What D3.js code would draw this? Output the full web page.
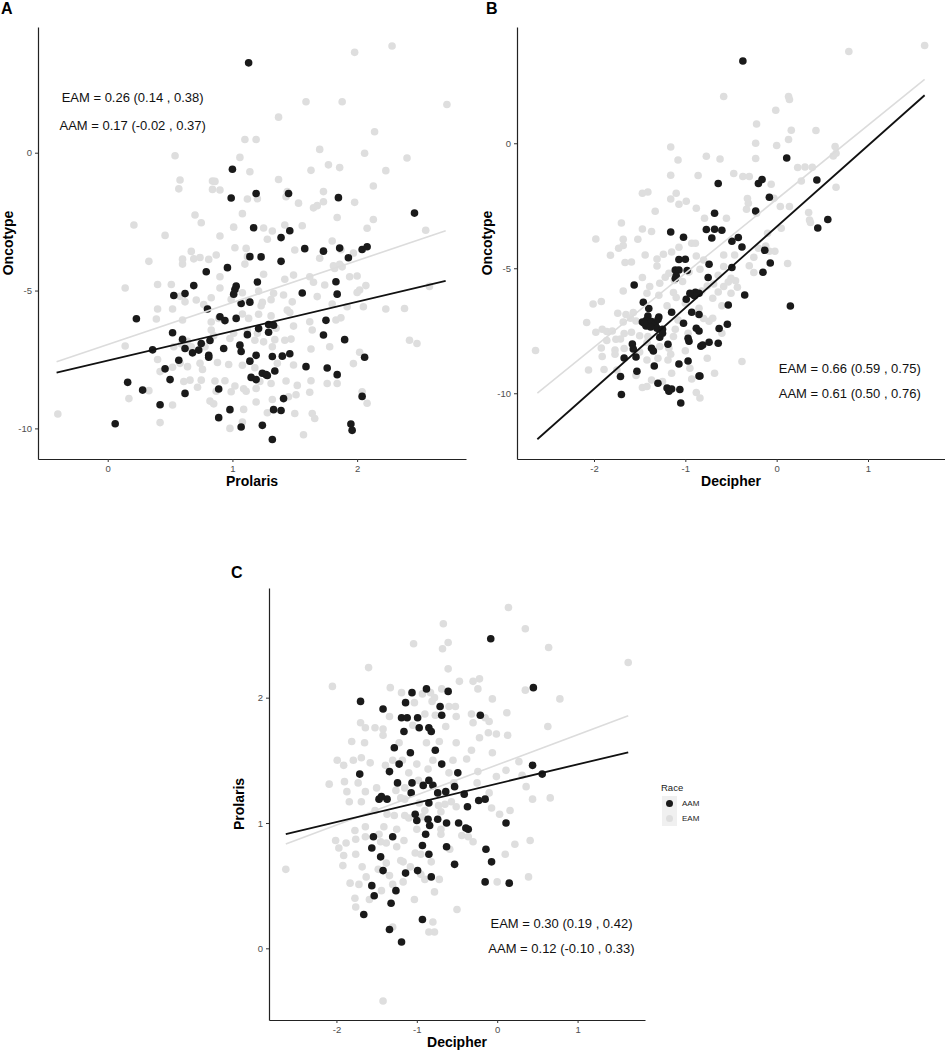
<!DOCTYPE html>
<html><head><meta charset="utf-8">
<script src="https://cdn.jsdelivr.net/npm/d3@7"></script>
<style>body{margin:0;background:#fff;} svg{display:block;font-family:"Liberation Sans",Arial,Helvetica,sans-serif;}</style>
</head><body><svg id="c" width="945" height="1050"></svg>
<script>
// ---------------- DATA ----------------
// Panel A: Prolaris (x) vs Oncotype (y)
const A_AAM = [[1.13,3.26],[1.00,-0.60],[0.99,-1.64],[1.19,-1.48],[1.45,-1.48],[1.85,-1.63],[2.46,-2.19],[1.17,-2.72],[1.46,-2.83],[1.39,-3.08],[1.58,-3.48],[1.73,-3.57],[1.86,-3.46],[2.04,-3.51],[2.08,-3.41],[1.93,-3.81],[1.14,-3.77],[1.23,-3.78],[1.39,-3.94],[0.96,-4.17],[0.79,-4.32],[1.20,-4.69],[0.69,-4.82],[0.62,-5.11],[0.53,-5.18],[1.02,-4.96],[1.03,-4.84],[1.01,-5.13],[1.56,-5.09],[1.83,-4.68],[1.84,-5.13],[1.07,-5.47],[1.14,-5.42],[0.80,-5.67],[0.90,-5.95],[0.94,-6.09],[1.03,-6.01],[0.23,-6.02],[1.75,-6.08],[1.29,-6.23],[1.33,-6.26],[1.21,-6.38],[1.29,-6.51],[0.52,-6.53],[1.12,-6.60],[1.73,-6.61],[1.90,-6.78],[0.60,-6.77],[0.82,-6.81],[0.75,-6.92],[1.06,-6.98],[0.36,-7.15],[0.62,-7.10],[0.93,-7.10],[0.73,-7.16],[0.68,-7.26],[1.07,-7.21],[0.81,-7.35],[0.81,-7.42],[1.19,-7.35],[1.32,-7.39],[1.40,-7.38],[1.46,-7.29],[0.57,-7.53],[1.14,-7.56],[2.06,-7.42],[0.46,-7.84],[1.59,-7.76],[1.76,-7.81],[1.34,-7.92],[1.24,-8.00],[1.27,-8.05],[1.28,-8.08],[1.84,-8.05],[0.50,-8.23],[1.15,-8.15],[1.19,-8.23],[0.16,-8.33],[0.28,-8.61],[0.89,-8.57],[0.62,-8.73],[2.04,-8.84],[1.41,-8.92],[0.42,-9.14],[0.98,-9.32],[1.33,-9.32],[1.39,-9.35],[0.89,-9.61],[0.06,-9.83],[1.07,-9.95],[1.24,-9.89],[1.95,-9.84],[1.96,-10.07],[1.32,-10.40]];
const A_EAM = [[2.28,3.87],[1.98,3.64],[1.59,1.85],[1.88,1.85],[2.72,1.75],[1.37,1.29],[2.14,0.76],[1.10,0.48],[1.19,0.48],[1.70,0.12],[2.06,-0.02],[2.40,-0.19],[0.54,-0.11],[1.06,-0.17],[1.77,-0.44],[1.86,-0.54],[1.63,-0.64],[2.23,-0.65],[1.14,-0.69],[1.37,-0.97],[2.13,-1.21],[0.58,-0.99],[0.57,-1.31],[0.84,-1.03],[0.86,-1.04],[0.90,-1.35],[0.84,-1.33],[1.12,-1.68],[1.20,-1.67],[1.44,-1.41],[1.73,-1.41],[1.43,-1.60],[1.53,-1.83],[1.98,-1.80],[1.65,-2.00],[1.68,-1.92],[1.73,-1.78],[1.84,-2.35],[2.13,-2.42],[0.21,-2.62],[0.70,-2.26],[0.75,-2.54],[1.08,-2.21],[1.25,-2.73],[1.01,-2.70],[1.42,-2.62],[1.56,-2.65],[2.08,-2.74],[2.55,-2.81],[0.46,-3.00],[0.90,-3.02],[1.28,-3.14],[1.32,-2.84],[1.02,-3.45],[1.11,-3.47],[1.80,-3.20],[1.87,-3.52],[0.67,-3.58],[0.69,-3.85],[0.74,-3.80],[0.81,-3.87],[0.87,-3.71],[0.33,-3.94],[0.60,-3.86],[0.60,-4.04],[1.10,-4.04],[1.12,-3.77],[1.50,-3.53],[1.70,-3.83],[1.97,-3.64],[1.81,-4.10],[1.86,-4.05],[1.82,-4.20],[1.88,-4.14],[1.25,-4.41],[1.42,-4.59],[0.90,-4.50],[0.40,-4.78],[0.51,-4.78],[0.14,-4.91],[0.90,-4.91],[1.08,-5.08],[1.21,-5.02],[1.49,-4.44],[1.62,-4.50],[1.65,-4.70],[1.74,-4.80],[1.94,-4.50],[2.00,-4.47],[2.02,-4.98],[2.07,-4.82],[2.58,-4.85],[2.00,-5.07],[0.58,-5.21],[0.62,-5.41],[0.71,-5.34],[0.77,-5.51],[0.52,-5.67],[0.80,-5.65],[0.83,-5.26],[0.99,-5.32],[1.13,-5.37],[1.23,-5.55],[1.24,-5.43],[1.31,-5.33],[1.41,-5.16],[1.33,-5.10],[1.44,-5.71],[1.48,-5.41],[1.68,-5.22],[1.80,-5.49],[1.92,-5.59],[2.05,-5.59],[2.23,-5.67],[2.38,-5.65],[1.83,-6.07],[0.40,-5.67],[0.39,-6.03],[0.60,-6.07],[0.83,-6.14],[0.89,-6.01],[1.08,-5.85],[1.13,-6.01],[1.21,-5.86],[1.31,-5.92],[1.46,-5.80],[1.62,-6.13],[1.87,-5.99],[1.64,-6.43],[1.49,-6.29],[1.35,-6.37],[1.12,-6.43],[1.20,-6.55],[1.01,-6.55],[0.83,-6.43],[0.85,-6.64],[0.78,-7.04],[0.98,-6.74],[0.64,-6.84],[0.67,-7.04],[0.14,-7.01],[0.53,-7.04],[0.59,-6.94],[1.18,-6.80],[1.25,-6.86],[1.32,-7.04],[1.34,-6.78],[1.42,-6.80],[1.47,-6.76],[1.63,-7.12],[1.78,-7.04],[2.02,-7.24],[2.42,-6.80],[2.48,-6.92],[0.40,-7.50],[0.58,-7.64],[0.64,-7.76],[0.74,-7.64],[0.76,-7.86],[0.88,-7.61],[0.97,-7.68],[1.08,-7.71],[1.18,-7.80],[1.36,-7.64],[1.49,-7.70],[1.97,-7.65],[0.52,-7.78],[0.42,-7.94],[0.61,-8.30],[0.66,-8.25],[0.75,-8.25],[0.94,-8.27],[0.86,-8.28],[1.02,-8.46],[1.09,-8.56],[1.22,-8.30],[1.31,-8.37],[1.43,-8.28],[1.52,-8.44],[1.63,-8.27],[1.76,-8.37],[1.84,-8.37],[0.33,-8.63],[0.72,-8.51],[0.87,-8.65],[0.99,-8.67],[1.11,-8.65],[1.19,-8.55],[0.17,-8.92],[0.52,-9.15],[0.82,-9.01],[0.85,-9.11],[1.19,-9.04],[1.32,-8.95],[1.45,-8.85],[1.51,-8.78],[1.62,-8.69],[2.04,-8.67],[2.08,-9.09],[1.09,-9.31],[1.28,-9.43],[1.50,-9.46],[1.64,-9.46],[1.66,-9.64],[-0.40,-9.48],[0.42,-9.79],[1.08,-9.77],[0.98,-10.00],[1.57,-10.23],[1.96,-10.07]];

// Panel B: Decipher (x) vs Oncotype (y)
const B_AAM = [[-0.37,3.29],[0.11,-0.59],[0.44,-1.47],[-0.64,-1.61],[-0.20,-1.61],[-0.16,-1.45],[-0.08,-2.16],[-0.23,-2.71],[-0.68,-2.80],[0.56,-3.05],[0.45,-3.39],[-1.16,-3.55],[-0.77,-3.45],[-0.68,-3.44],[-0.60,-3.48],[-1.02,-3.76],[-0.71,-3.79],[-0.49,-3.92],[-0.42,-3.77],[-0.38,-4.15],[-0.13,-4.28],[-1.07,-4.65],[-1.00,-4.64],[-0.74,-4.84],[-0.07,-4.79],[-0.49,-4.97],[-1.11,-5.07],[-1.07,-5.07],[-0.98,-5.09],[-1.11,-5.41],[-0.75,-5.37],[-0.15,-5.16],[-1.56,-5.67],[-0.35,-6.07],[-0.89,-5.96],[-0.85,-6.00],[-0.92,-6.04],[-0.99,-6.24],[0.15,-6.51],[-1.46,-6.36],[-1.40,-6.61],[-0.53,-6.47],[-1.15,-6.76],[-0.93,-6.76],[-0.85,-6.85],[-1.41,-6.91],[-1.29,-6.95],[-1.47,-7.15],[-1.43,-7.09],[-1.37,-7.13],[-1.33,-7.23],[-1.43,-7.31],[-1.31,-7.40],[-1.02,-7.20],[-0.54,-7.24],[-1.25,-7.44],[-0.63,-7.41],[-0.88,-7.40],[-0.85,-7.51],[-1.28,-7.76],[-0.97,-7.80],[-0.96,-7.92],[-1.58,-8.03],[-1.19,-8.04],[-0.83,-8.12],[-0.81,-8.07],[-0.74,-7.96],[-0.64,-8.00],[-1.57,-8.23],[-1.37,-8.20],[-1.35,-8.31],[-1.67,-8.59],[-1.54,-8.55],[-0.97,-8.71],[-1.07,-8.83],[-1.34,-8.91],[-1.53,-9.12],[-1.71,-9.33],[-0.85,-9.31],[-0.84,-9.31],[-1.30,-9.60],[-1.20,-9.79],[-1.15,-9.83],[-1.18,-9.92],[-1.06,-9.85],[-1.70,-10.05],[-1.05,-10.39],[-1.45,-7.20],[-1.38,-7.35],[-1.30,-7.05],[-1.25,-7.60],[-0.90,-6.10],[-0.95,-6.00],[-1.10,-5.30]];
const B_EAM = [[1.62,3.91],[0.79,3.67],[-0.58,1.87],[0.13,1.87],[0.14,1.75],[-0.01,1.32],[-0.22,0.77],[0.16,0.52],[0.43,0.51],[0.13,0.15],[-0.23,0.00],[0.00,-0.09],[-1.16,-0.15],[-1.08,-0.67],[-0.77,-0.52],[-0.62,-0.63],[-0.23,-0.61],[0.64,-0.13],[0.65,-0.40],[0.62,-0.51],[0.31,-0.95],[0.23,-0.97],[0.39,-0.96],[-1.16,-1.28],[-0.86,-1.29],[-0.47,-1.21],[-0.37,-1.33],[-0.30,-1.33],[-0.06,-1.64],[0.27,-1.51],[0.65,-1.76],[-1.47,-2.00],[-1.41,-1.95],[-1.10,-2.00],[-1.16,-2.23],[-1.07,-2.44],[-0.99,-2.32],[-0.32,-2.21],[-0.31,-2.40],[-0.03,-2.20],[0.04,-2.53],[0.14,-2.53],[-1.33,-2.72],[-0.88,-2.60],[-0.79,-3.00],[-0.55,-3.00],[-0.33,-2.64],[-0.22,-2.80],[0.35,-2.77],[0.36,-3.07],[0.37,-3.17],[-1.70,-3.19],[-1.47,-3.43],[-1.37,-3.53],[-1.98,-3.83],[-1.68,-3.84],[-1.68,-4.09],[-1.52,-3.84],[-1.73,-4.20],[-1.82,-4.48],[-1.59,-4.75],[-1.66,-4.77],[-1.44,-4.47],[-1.31,-4.63],[-1.24,-4.44],[-1.15,-4.35],[-1.07,-4.16],[-0.93,-4.00],[-0.89,-4.00],[-0.88,-4.51],[-0.80,-4.67],[-0.58,-4.47],[-0.46,-4.47],[-0.25,-4.56],[-0.12,-4.11],[-0.08,-4.32],[-0.02,-4.32],[0.12,-4.81],[-1.31,-4.91],[-1.22,-5.36],[-1.18,-5.20],[-0.96,-5.15],[-0.84,-5.04],[-0.58,-4.93],[-0.64,-5.28],[-0.50,-5.40],[-0.25,-5.17],[-1.47,-5.37],[-1.28,-5.60],[-1.39,-5.73],[-1.12,-5.49],[-1.03,-5.53],[-0.76,-5.71],[-0.69,-5.63],[-0.58,-5.73],[-0.53,-5.55],[-0.43,-5.76],[-1.68,-5.91],[-1.42,-6.00],[-1.29,-6.08],[-1.13,-5.97],[-1.10,-6.17],[-0.82,-5.91],[-0.64,-5.95],[-1.92,-6.33],[-2.01,-6.43],[-1.74,-6.80],[-2.08,-7.17],[-1.98,-7.56],[-1.91,-7.44],[-1.86,-7.53],[-1.80,-7.51],[-1.68,-7.15],[-1.65,-6.85],[-1.57,-6.77],[-1.54,-7.11],[-1.59,-7.56],[-1.67,-7.61],[-1.71,-7.83],[-1.76,-7.84],[-1.86,-7.89],[-1.92,-8.19],[-1.77,-8.27],[-1.77,-8.44],[-1.91,-8.53],[-1.67,-8.21],[-1.50,-8.35],[-1.42,-7.97],[-1.41,-7.73],[-1.28,-8.13],[-1.18,-8.20],[-1.16,-8.44],[-1.42,-8.67],[-1.19,-8.67],[-1.13,-7.73],[-1.11,-7.44],[-1.08,-7.07],[-0.80,-7.01],[-0.74,-7.12],[-0.76,-8.60],[-0.97,-7.60],[-2.06,-9.07],[-1.89,-9.05],[-1.75,-9.07],[-1.54,-9.29],[-1.47,-9.77],[-1.42,-9.73],[-1.37,-9.47],[-1.25,-9.53],[-0.93,-9.43],[-0.88,-9.97],[-0.84,-10.19],[-0.38,-8.73],[-2.64,-8.29],[-0.68,-9.20],[-1.20,-6.50],[-1.00,-6.40],[-0.85,-6.60],[-0.70,-6.20],[-0.60,-6.50],[-0.50,-6.00],[-0.45,-5.50],[-0.30,-4.90],[-0.20,-4.20],[-0.10,-3.60],[0.05,-3.40],[-1.60,-7.00],[-1.50,-7.70],[-1.30,-8.60],[-1.00,-8.30],[-0.95,-9.00],[-1.15,-9.20],[-0.60,-7.60],[-0.70,-7.00]];

// Panel C: Decipher (x) vs Prolaris (y)
const C_AAM = [[-0.08,2.47],[0.45,2.08],[-1.06,2.04],[-0.61,2.05],[-0.88,2.07],[-1.70,1.97],[-1.42,1.91],[-1.14,1.96],[-0.71,1.93],[-0.69,1.86],[-1.19,1.84],[-1.12,1.84],[-0.99,1.84],[-0.21,1.86],[-0.97,1.76],[-0.85,1.76],[-0.82,1.73],[-1.16,1.73],[-1.28,1.60],[-1.08,1.56],[-0.77,1.58],[-1.22,1.47],[-0.69,1.47],[-1.34,1.41],[-1.71,1.39],[-0.49,1.40],[-1.24,1.32],[-1.06,1.32],[-0.85,1.34],[-0.92,1.30],[-0.80,1.30],[-0.53,1.29],[0.44,1.46],[0.56,1.39],[-0.64,1.25],[-0.74,1.24],[-0.41,1.23],[-1.47,1.19],[-1.37,1.19],[-1.44,1.21],[-0.37,1.13],[-0.23,1.18],[-0.15,1.19],[-1.07,1.24],[-0.85,1.16],[-1.02,1.07],[-1.00,1.02],[-0.86,1.03],[-0.74,1.03],[-0.63,1.00],[-0.48,1.00],[-0.84,0.98],[-0.39,0.96],[-0.36,0.95],[0.11,1.00],[-1.30,0.89],[-1.54,0.89],[-0.89,0.91],[-0.93,0.82],[-1.56,0.80],[-1.45,0.73],[-0.85,0.75],[-0.14,0.79],[-0.63,0.81],[-0.53,0.67],[-0.07,0.69],[-1.42,0.62],[-1.14,0.60],[-0.99,0.62],[-0.82,0.57],[-0.15,0.53],[0.15,0.52],[-1.56,0.50],[-1.53,0.42],[-1.26,0.46],[-1.32,0.36],[-1.66,0.27],[-0.93,0.23],[-1.34,0.15],[-1.19,0.05]];
const C_EAM = [[0.14,2.72],[-0.67,2.59],[0.35,2.55],[-0.61,2.44],[-1.04,2.43],[-0.68,2.39],[0.64,2.40],[1.63,2.28],[-1.60,2.24],[-0.61,2.23],[-2.05,2.09],[-1.33,2.08],[-1.19,2.04],[-0.83,2.04],[-0.78,2.00],[-0.69,2.07],[-0.47,2.13],[-0.30,2.13],[-0.22,2.15],[-0.24,2.07],[-0.06,1.99],[0.35,2.06],[0.78,1.99],[-0.93,2.03],[-0.81,1.97],[-0.60,1.93],[-0.52,1.93],[-1.03,1.96],[-1.34,1.85],[-1.70,1.80],[-1.64,1.76],[-1.52,1.76],[-1.42,1.75],[-1.05,1.78],[-0.90,1.87],[-0.77,1.86],[-0.64,1.77],[-0.51,1.85],[-0.32,1.87],[-0.30,1.80],[-0.15,1.84],[-0.10,1.81],[0.12,1.88],[-0.11,1.72],[-0.01,1.71],[0.13,1.70],[0.63,1.77],[-1.81,1.65],[-1.65,1.64],[-1.42,1.70],[-1.22,1.64],[-0.88,1.64],[-0.72,1.65],[-0.51,1.64],[-0.32,1.58],[-0.22,1.68],[-0.06,1.56],[-1.99,1.50],[-1.91,1.46],[-1.79,1.50],[-1.69,1.52],[-1.58,1.48],[-1.39,1.46],[-1.18,1.50],[-1.00,1.47],[-0.86,1.43],[-0.60,1.40],[-0.38,1.51],[-0.24,1.41],[-0.01,1.37],[0.11,1.42],[0.27,1.49],[0.31,1.38],[-2.09,1.31],[-1.90,1.33],[-1.73,1.32],[-1.50,1.28],[-1.15,1.28],[-0.98,1.34],[-0.54,1.32],[-0.25,1.32],[-0.10,1.24],[0.36,1.29],[-1.87,1.25],[-1.64,1.25],[-1.84,1.17],[-1.69,1.17],[-1.26,1.26],[-1.15,1.19],[-0.97,1.16],[-0.73,1.14],[-0.57,1.17],[-0.51,1.13],[-0.07,1.12],[0.16,1.10],[0.44,1.19],[0.66,1.20],[-1.52,1.10],[-1.37,1.07],[-1.28,1.06],[-1.15,1.06],[-1.10,1.04],[-0.93,1.05],[-0.70,1.09],[0.03,1.07],[-1.77,0.94],[-1.64,0.97],[-1.41,0.97],[-2.01,0.86],[-1.88,0.84],[-1.97,0.80],[-1.76,0.87],[-1.64,0.89],[-1.47,0.91],[-1.38,0.84],[-1.25,0.81],[-1.16,0.86],[-1.02,0.76],[-0.70,0.91],[-0.59,0.79],[-0.44,0.90],[-0.30,0.85],[-0.36,0.89],[0.22,0.83],[0.41,0.86],[0.10,0.75],[-1.76,0.75],[-1.91,0.74],[-1.92,0.66],[-1.68,0.65],[-1.48,0.63],[-1.38,0.68],[-1.34,0.58],[-1.17,0.69],[-1.08,0.65],[-1.17,0.53],[-0.82,0.69],[-2.63,0.63],[-1.83,0.52],[-1.72,0.51],[-1.63,0.57],[-1.30,0.51],[-0.95,0.59],[-0.72,0.55],[0.00,0.53],[0.39,0.57],[-1.77,0.40],[-1.76,0.33],[-1.59,0.39],[-1.44,0.46],[-1.03,0.39],[-0.78,0.45],[-0.50,0.31],[-1.30,0.17],[-0.80,0.21],[-0.85,0.13],[-0.78,0.13],[-1.42,-0.42],[-1.20,1.20],[-1.10,1.40],[-0.90,1.10],[-1.00,0.95],[-1.20,0.70],[-0.95,0.75],[-0.70,0.95],[-0.65,1.15],[-1.25,0.95],[-1.45,0.85],[-0.80,1.50],[-0.55,1.50],[-1.30,1.50],[-0.90,0.55]];

// Fitted regression lines: [intercept, slope] and x-range, per panel
const A_fitEAM = [-6.956, 1.521], A_fitAAM = [-7.542, 1.069], A_fitRange = [-0.41, 2.71];
const B_fitEAM = [-2.239, 2.962], B_fitAAM = [-3.337, 3.245], B_fitRange = [-2.62, 1.62];
const C_fitEAM = [1.464, 0.2404], C_fitAAM = [1.314, 0.1535], C_fitRange = [-2.63, 1.63];

// Axis limits and ticks
const A_xDomain = [-0.559, 2.873], A_yDomain = [-11.11, 4.56];
const B_xDomain = [-2.843, 1.843], B_yDomain = [-12.63, 4.65];
const C_xDomain = [-2.839, 1.839], C_yDomain = [-0.572, 2.875];
const A_xTicks = [0, 1, 2], A_yTicks = [-10, -5, 0];
const B_xTicks = [-2, -1, 0, 1], B_yTicks = [-10, -5, 0];
const C_xTicks = [-2, -1, 0, 1], C_yTicks = [0, 1, 2];

// Correlation labels: text, anchor position in data units
const A_labels = [["EAM = 0.26 (0.14 , 0.38)", 0.20, 2.0], ["AAM = 0.17 (-0.02 , 0.37)", 0.20, 1.0]];
const B_labels = [["EAM = 0.66 (0.59 , 0.75)", 0.80, -9.0], ["AAM = 0.61 (0.50 , 0.76)", 0.80, -10.0]];
const C_labels = [["EAM = 0.30 (0.19 , 0.42)", 0.80, 0.2], ["AAM = 0.12 (-0.10 , 0.33)", 0.80, 0.0]];

const raceLevels = ["AAM", "EAM"];
// -------------- END DATA --------------

const colors = {AAM: "#1a1a1a", EAM: "#dedede"};
const svg = d3.select("#c");

const panels = [
  {tag:"A", tagPos:[1,14], box:[38,466,27,459], xDom:A_xDomain, yDom:A_yDomain, xT:A_xTicks, yT:A_yTicks,
   eam:A_EAM, aam:A_AAM, fE:A_fitEAM, fA:A_fitAAM, fR:A_fitRange, labels:A_labels, xl:"Prolaris", yl:"Oncotype"},
  {tag:"B", tagPos:[486,14], box:[517,945,27,459], xDom:B_xDomain, yDom:B_yDomain, xT:B_xTicks, yT:B_yTicks,
   eam:B_EAM, aam:B_AAM, fE:B_fitEAM, fA:B_fitAAM, fR:B_fitRange, labels:B_labels, xl:"Decipher", yl:"Oncotype"},
  {tag:"C", tagPos:[231,578], box:[269,645,588,1020], xDom:C_xDomain, yDom:C_yDomain, xT:C_xTicks, yT:C_yTicks,
   eam:C_EAM, aam:C_AAM, fE:C_fitEAM, fA:C_fitAAM, fR:C_fitRange, labels:C_labels, xl:"Decipher", yl:"Prolaris"}
];

panels.forEach(p => {
  const [L, R, T, B] = p.box;
  const x = d3.scaleLinear().domain(p.xDom).range([L, R]);
  const y = d3.scaleLinear().domain(p.yDom).range([B, T]);
  const g = svg.append("g");

  g.append("g").selectAll("circle").data(p.eam).join("circle")
    .attr("cx", d => x(d[0])).attr("cy", d => y(d[1])).attr("r", 3.8).attr("fill", colors.EAM);
  g.append("g").selectAll("circle").data(p.aam).join("circle")
    .attr("cx", d => x(d[0])).attr("cy", d => y(d[1])).attr("r", 3.8).attr("fill", colors.AAM);

  const fitLine = d3.line().x(d => x(d)).y(null);
  [["EAM", p.fE, 1.6], ["AAM", p.fA, 1.8]].forEach(([k, f, w]) => {
    const pts = p.fR.map(v => [v, f[0] + f[1] * v]);
    g.append("path").attr("d", d3.line().x(d => x(d[0])).y(d => y(d[1]))(pts))
      .attr("stroke", k === "EAM" ? "#dcdcdc" : "#111").attr("stroke-width", w).attr("fill", "none");
  });

  const xa = g.append("g").attr("transform", `translate(0,${B})`)
    .call(d3.axisBottom(x).tickValues(p.xT).tickFormat(d => String(d)).tickSize(3).tickSizeOuter(0).tickPadding(3));
  const ya = g.append("g").attr("transform", `translate(${L},0)`)
    .call(d3.axisLeft(y).tickValues(p.yT).tickFormat(d => String(d)).tickSize(3).tickSizeOuter(0).tickPadding(3));
  [xa, ya].forEach(a => {
    a.select(".domain").attr("stroke", "#222").attr("stroke-width", 1.2);
    a.selectAll(".tick line").attr("stroke", "#333");
    a.selectAll(".tick text").attr("fill", "#4d4d4d").style("font-size", "9.5px").style("font-family", "Liberation Sans, Arial, sans-serif");
  });

  g.append("text").attr("x", (L + R) / 2).attr("y", B + 27).attr("text-anchor", "middle")
    .style("font-size", "14px").style("font-weight", "bold").text(p.xl);
  g.append("text").attr("transform", `translate(${L - 25},${(T + B) / 2}) rotate(-90)`).attr("text-anchor", "middle")
    .style("font-size", "14px").style("font-weight", "bold").text(p.yl);

  g.selectAll(".lab").data(p.labels).join("text")
    .attr("x", d => x(d[1])).attr("y", d => y(d[2])).attr("dy", "0.35em").attr("text-anchor", "middle")
    .style("font-size", "13px").attr("fill", "#111").text(d => d[0]);

  svg.append("text").attr("x", p.tagPos[0]).attr("y", p.tagPos[1])
    .style("font-size", "16px").style("font-weight", "bold").text(p.tag);
});

// Legend (Race)
const lg = svg.append("g").attr("transform", "translate(661,781)");
lg.append("text").attr("x", 0).attr("y", 10).style("font-size", "9.5px").attr("fill", "#222").text("Race");
raceLevels.forEach((r, i) => {
  const yy = 15 + i * 15;
  lg.append("rect").attr("x", 1).attr("y", yy).attr("width", 15).attr("height", 15).attr("fill", "#f0f0f0");
  lg.append("circle").attr("cx", 8.5).attr("cy", yy + 7.5).attr("r", 3.5).attr("fill", colors[r]);
  lg.append("text").attr("x", 21).attr("y", yy + 7.5).attr("dy", "0.35em").style("font-size", "8px").attr("fill", "#222").text(r);
});
</script></body></html>
